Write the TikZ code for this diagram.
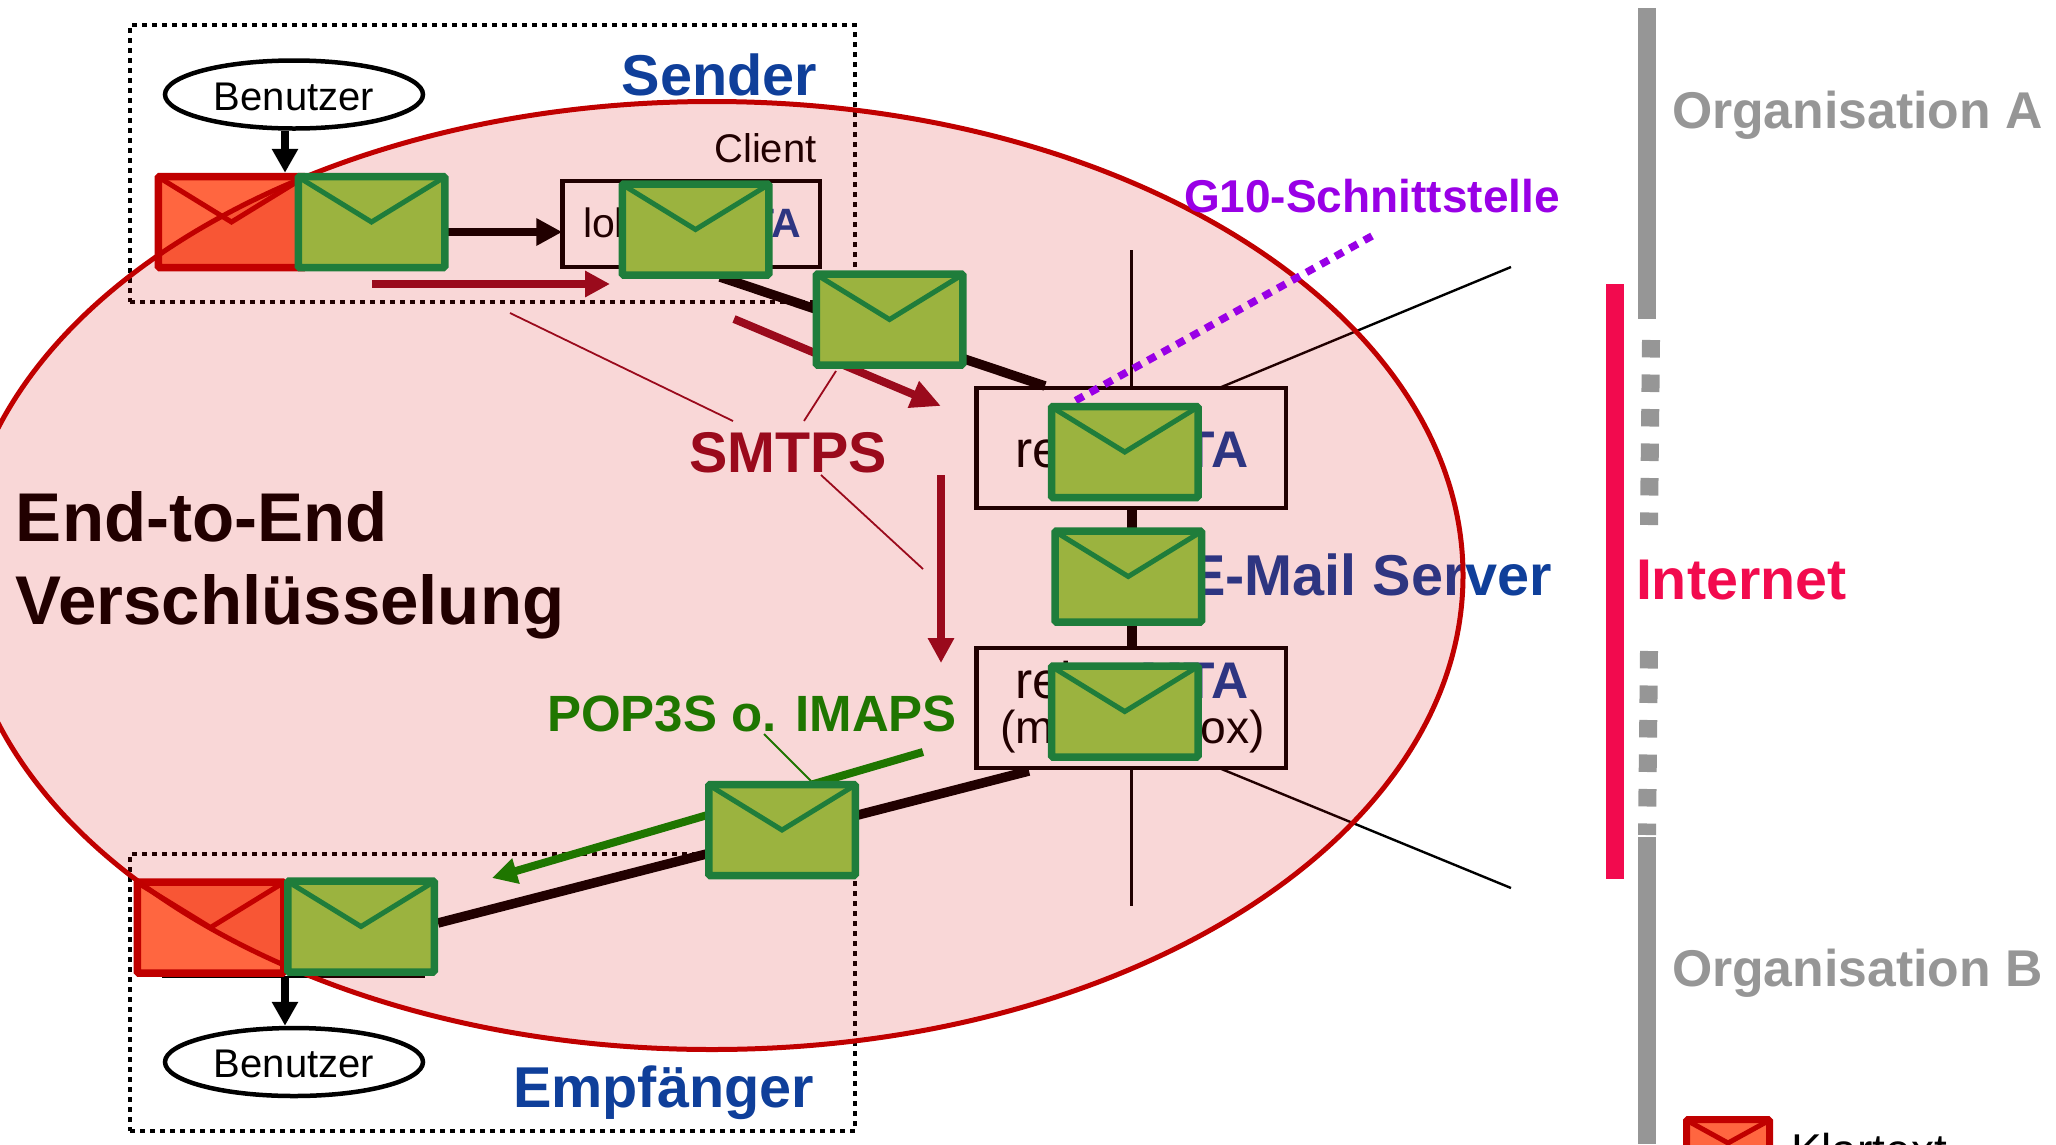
\documentclass[tikz,border=0pt]{standalone}
\usepackage{fontspec}
\setmainfont{Liberation Sans}
\usetikzlibrary{arrows.meta,shapes.geometric,calc}
\definecolor{ered}{HTML}{C00000}
\definecolor{pinkfill}{HTML}{D80000}
\definecolor{efill}{HTML}{FF6640}
\definecolor{gborder}{HTML}{1F7D3B}
\definecolor{gfill}{HTML}{9BB33F}
\definecolor{darkblue}{HTML}{0F3F9A}
\definecolor{mtablue}{HTML}{0F3F9A}
\definecolor{smtpred}{HTML}{9A0A1C}
\definecolor{popgreen}{HTML}{1F7600}
\definecolor{purplec}{HTML}{9900E6}
\definecolor{inetred}{HTML}{F20A4E}
\definecolor{barcol}{HTML}{969696}
\newcommand{\fs}[1]{\fontsize{#1}{#1}\selectfont}
\newcommand{\envnode}[4]{%
  \node[#1] (#2) at (#3,#4) {};
  \draw[#1flap] ($(#2.north west)+(5,5)$) -- (#2.center) -- ($(#2.north east)+(-5,5)$);
}
\tikzset{
  txt/.style={inner sep=0pt,outer sep=0pt},
  envgreen/.style={draw=gborder,fill=gfill,line width=7.5pt,minimum width=146.5pt,minimum height=91pt,inner sep=0pt,outer sep=3.75pt,rounded corners=1.5pt},
  envgreenflap/.style={draw=gborder,line width=5pt},
  envred/.style={draw=ered,fill=efill,line width=7.5pt,minimum width=146.5pt,minimum height=91pt,inner sep=0pt,outer sep=3.75pt,rounded corners=1.5pt},
  envredflap/.style={draw=ered,line width=5pt},
  legendenv/.style={draw=ered,fill=efill,line width=7pt,minimum width=83pt,minimum height=47pt,inner sep=0pt,outer sep=3.5pt,rounded corners=1.5pt},
  legendenvflap/.style={draw=ered,line width=5pt},
  dotbox/.style={draw=black,line width=4.5pt,dash pattern=on 5pt off 5pt,minimum width=725pt,inner sep=0pt,outer sep=0pt},
  userell/.style={ellipse,draw=black,fill=white,line width=4.5pt,minimum width=258pt,minimum height=68pt,inner sep=0pt},
  mtabox/.style={draw=black,line width=4.5pt,inner sep=0pt,outer sep=0pt},
  thickline/.style={draw=black,line width=9.5pt},
  thinline/.style={draw=black,line width=2.4pt},
  blackarrow/.style={draw=black,line width=8.5pt,-{Triangle[length=24pt,width=25pt]}},
  redarrow/.style={draw=smtpred,line width=8pt,-{Triangle[length=25pt,width=25pt]}},
  greenarrow/.style={draw=popgreen,line width=8pt,-{Triangle[length=25pt,width=25pt]}},
  redthin/.style={draw=smtpred,line width=1.8pt},
  greenthin/.style={draw=popgreen,line width=1.8pt},
  titletext/.style={txt,text=darkblue,font=\fs{57.6}\bfseries},
  orgtext/.style={txt,text=barcol,font=\fs{51.7}\bfseries},
  graybar/.style={fill=barcol,draw=none},
  dashbar/.style={draw=barcol,line width=18pt,dash pattern=on 17.5pt off 17pt},
}
\begin{document}
\begin{tikzpicture}[x=1pt,y=-1pt]
\useasboundingbox (0,0) rectangle (2056,1144);
% dotted frames
\node[dotbox,minimum height=277pt] (senderframe) at (492.5,163.5) {};
\node[dotbox,minimum height=277pt] (empfframe) at (492.5,992.5) {};
% users
\node[userell] (ben1) at (294,94.5) {};
\node[txt,font=\fs{40},anchor=base] (ben1t) at (294,110) {Benutzer};
\node[userell] (ben2) at (294,1062) {};
\node[txt,font=\fs{40},anchor=base] (ben2t) at (294,1077) {Benutzer};
% MTA boxes
\node[mtabox,minimum width=257.5pt,minimum height=86pt] (lbox) at (691,224) {};
\node[mtabox,minimum width=309.5pt,minimum height=120pt] (r1box) at (1131,448) {};
\node[mtabox,minimum width=309.5pt,minimum height=120pt] (r2box) at (1131,708) {};
\node[txt,font=\fs{41},anchor=base west] (lboxt) at (583,237) {lokaler \textcolor{mtablue}{\bfseries MTA}};
\node[txt,font=\fs{51.5},anchor=base west] (r1t) at (1015,467) {relay \textcolor{mtablue}{\bfseries MTA}};
\node[txt,font=\fs{51.5},anchor=base west] (r2t) at (1015,698) {relay \textcolor{mtablue}{\bfseries MTA}};
\node[txt,font=\fs{46.2},anchor=base] (r2u) at (1132.5,743) {(mit Mailbox)};
\node[txt,font=\fs{40},anchor=base east] (client) at (816.5,162) {Client};
% hidden box edge below receiver envelopes
\coordinate (hbl) at (162,977);
\coordinate (hbr) at (425,977);
\draw[draw=black,line width=2pt] (hbl) -- (hbr);
% connectors
\draw[thinline] ([xshift=.5pt]r1box.north) -- ++(0,-138) coordinate (vtop);
\draw[thinline] ([xshift=.5pt]r2box.south) -- ++(0,138) coordinate (vbot);
\coordinate (dtop) at (1511,267);
\coordinate (dbot) at (1511,888);
\draw[thinline] ([xshift=88pt]r1box.north) -- (dtop);
\draw[thinline] ([xshift=88pt]r2box.south) -- (dbot);
\draw[thickline] ([shift={(29,10)}]lbox.south) -- ([shift={(-86,-2)}]r1box.north);
\draw[thickline] ([xshift=1pt]r1box.south) -- ([xshift=1pt]r2box.north);
% red envelopes
\envnode{envred}{r1}{231.5}{222}
\envnode{envred}{r2}{210.5}{927.5}
\draw[thickline] ([shift={(-102,3)}]r2box.south) -- (438,923) coordinate (lowend);
\draw[blackarrow] ([xshift=-9pt]ben1.south) -- ([xshift=53.5pt]r1.north);
\draw[blackarrow] ([xshift=74.5pt]r2.south) -- ([xshift=-9pt]ben2.north);
\coordinate (barrowstart) at (448,232);
\draw[blackarrow,-{Triangle[length=26pt,width=26pt]}] (barrowstart) -- ([yshift=-8pt]lbox.west);
% titles
\node[titletext,anchor=base east] (sender) at (817,95) {Sender};
\node[titletext,anchor=base east] (empf) at (814,1107) {Empfänger};
\node[titletext,anchor=base west] (mailsrv) at (1187,595) {E-Mail Server};
\node[txt,font=\fs{69}\bfseries,anchor=base west] (e2e1) at (16,541) {End-to-End};
\node[txt,font=\fs{69}\bfseries,anchor=base west] (e2e2) at (16,624) {Verschlüsselung};
% end-to-end ellipse overlay
\node[ellipse,draw=ered,fill=pinkfill,line width=5pt,fill opacity=0.155,draw opacity=1,minimum width=1502pt,minimum height=948pt,inner sep=0pt] (e2e) at (712,575.5) {};
% right-hand bars and labels
\fill[graybar] (1638,8) rectangle (1656,318.5);
\fill[graybar] (1638,837) rectangle (1656,1144);
\fill[inetred] (1606,284) rectangle (1624,879);
\coordinate (d1a) at (1651,340);
\coordinate (d1b) at (1649,525);
\coordinate (d2a) at (1649,651);
\coordinate (d2b) at (1647,835);
\draw[dashbar] (d1a) -- (d1b);
\draw[dashbar] (d2a) -- (d2b);
\node[orgtext,anchor=base west] (orga) at (1672,128.5) {Organisation A};
\node[orgtext,anchor=base west] (orgb) at (1672,986) {Organisation B};
\node[txt,font=\fs{57.4}\bfseries,text=inetred,anchor=base west] (inet) at (1636,599.5) {Internet};
\node[txt,font=\fs{46},anchor=base west] (klar) at (1791,1166) {Klartext};
\envnode{legendenv}{lenv}{1728}{1143}
% protocol arrows
\coordinate (ra1s) at (372,284);
\coordinate (ra1e) at (610,284);
\coordinate (ra2s) at (734,319);
\coordinate (ra2e) at (941,406);
\coordinate (ra3s) at (941,475);
\coordinate (ra3e) at (941,663);
\draw[redarrow] (ra1s) -- (ra1e);
\draw[redarrow,-{Triangle[length=30pt,width=27pt]}] (ra2s) -- (ra2e);
\draw[redarrow] (ra3s) -- (ra3e);
\coordinate (ga1) at (923,752);
\coordinate (ga2) at (492,878);
\draw[greenarrow] (ga1) -- (ga2);
% callouts
\node[txt,font=\fs{57.4}\bfseries,text=smtpred,anchor=base west] (smtps) at (689,472) {SMTPS};
\coordinate (c1a) at (510,313);
\coordinate (c1b) at (733,421);
\coordinate (c2a) at (836,371);
\coordinate (c2b) at (804,421);
\coordinate (c3a) at (821,475);
\coordinate (c3b) at (923,569);
\draw[redthin] (c1a) -- (c1b);
\draw[redthin] (c2a) -- (c2b);
\draw[redthin] (c3a) -- (c3b);
\node[txt,font=\fs{51}\bfseries,text=popgreen,anchor=base west] (pop) at (547,731) {POP3S o. IMAPS};
\coordinate (p1a) at (764,734);
\coordinate (p1b) at (811,781);
\draw[greenthin] (p1a) -- (p1b);
\node[txt,font=\fs{46}\bfseries,text=purplec,anchor=base west] (g10) at (1184,212) {G10-Schnittstelle};
\coordinate (g1a) at (1372,236);
\coordinate (g1b) at (1073,402);
\draw[draw=purplec,line width=7.5pt,dash pattern=on 9pt off 7.5pt] (g1a) -- (g1b);
% green envelopes
\envnode{envgreen}{g1}{371.5}{222}
\envnode{envgreen}{g2}{695.5}{229.5}
\envnode{envgreen}{g3}{889.5}{319.5}
\envnode{envgreen}{g4}{1124.75}{452}
\envnode{envgreen}{g5}{1128.25}{576.5}
\envnode{envgreen}{g6}{1124.75}{711.5}
\envnode{envgreen}{g7}{782}{830}
\envnode{envgreen}{g8}{361}{926.5}
\end{tikzpicture}
\end{document}
